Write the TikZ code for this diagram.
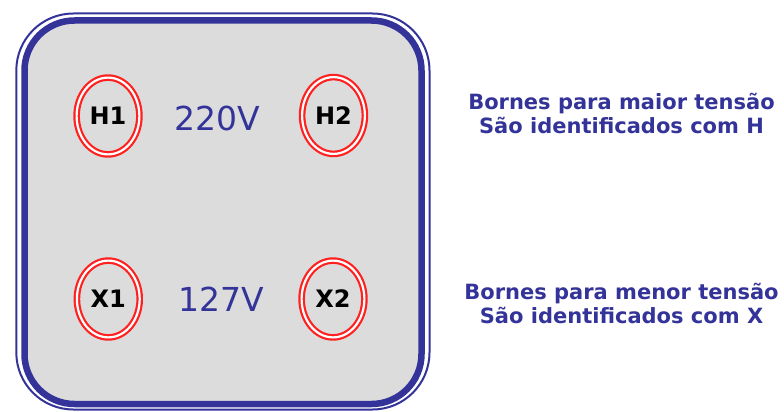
\documentclass[tikz,border=0pt]{standalone}
\usepackage{fontspec}
\setmainfont{DejaVu Sans}
\usetikzlibrary{shapes.geometric}
\definecolor{bornblue}{HTML}{333399}
\definecolor{bornred}{HTML}{FF2020}
\definecolor{boxgray}{HTML}{DCDCDC}
\tikzset{
  borne/.style={ellipse,draw=bornred,line width=2.2pt,double=white,double distance=2.2pt,
    minimum width=62.8pt,minimum height=76.8pt,inner sep=0pt,
    font=\bfseries\fontsize{24}{24}\selectfont},
  volt/.style={text=bornblue,font=\fontsize{33}{33}\selectfont},
  note/.style={text=bornblue,align=center,font=\bfseries\fontsize{21}{24}\selectfont}
}
\begin{document}
\begin{tikzpicture}[x=1pt,y=-1pt]
\useasboundingbox (0,0) rectangle (784,412);
\draw[bornblue,line width=2pt,rounded corners=57pt] (16.3,13.5) rectangle (429.5,409.5);
\draw[bornblue,fill=boxgray,line width=6.5pt,rounded corners=50pt] (24.5,20.5) rectangle (421.5,404);
\node[borne] (H1) at (108,116) {H1};
\node[borne] (H2) at (333.5,115.5) {H2};
\node[borne] (X1) at (108.3,299) {X1};
\node[borne] (X2) at (333,299) {X2};
\node[volt] (v220) at (217,118) {220V};
\node[volt] (v127) at (221,299) {127V};
\node[note] (hnote) at (621.5,113) {Bornes para maior tensão\\São identificados com H};
\node[note] (xnote) at (621.5,303) {Bornes para menor tensão\\São identificados com X};
\end{tikzpicture}
\end{document}
